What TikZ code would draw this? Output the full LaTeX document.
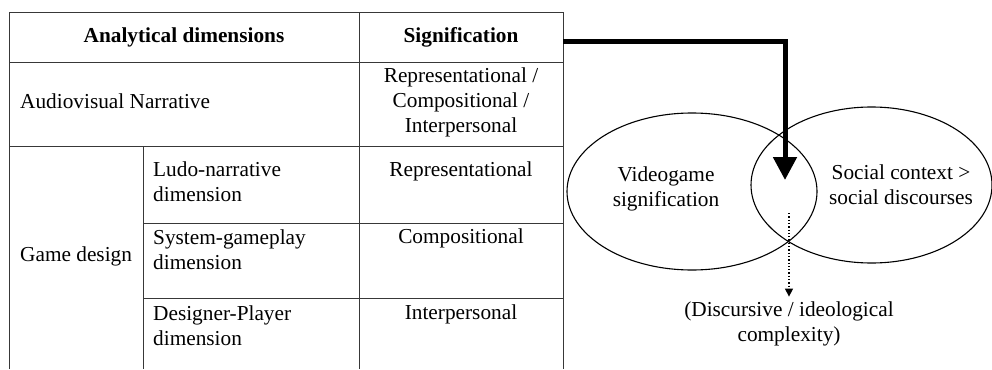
\documentclass[tikz,border=0pt]{standalone}
\usepackage{fontspec}
\setmainfont{Liberation Serif}
\usetikzlibrary{arrows.meta,shapes.geometric}
\begin{document}
\begin{tikzpicture}[x=1pt,y=-1pt,
  every node/.style={font=\fontsize{21.3}{25}\selectfont, inner sep=0pt},
  rule/.style={draw=black!78, line width=1pt},
  hdr/.style={font=\fontsize{21.3}{25}\selectfont\bfseries},
  lcell/.style={anchor=west, align=left},
  ccell/.style={align=center},
  oval/.style={draw, ellipse, line width=1.1pt, inner sep=0pt}]
\useasboundingbox (0,0) rectangle (992,369);
% table rules
\draw[rule] (9,369) -- (9,13) -- (563,13) -- (563,369);
\draw[rule] (9,62) -- (563,62);
\draw[rule] (9,146) -- (563,146);
\draw[rule] (143,223) -- (563,223);
\draw[rule] (143,298) -- (563,298);
\draw[rule] (359,13) -- (359,369);
\draw[rule] (143,146) -- (143,369);
% header
\node[hdr] (hA) at (184,37) {Analytical dimensions};
\node[hdr, minimum width=204pt, minimum height=49pt] (hS) at (461,37.5) {Signification};
% rows
\node[lcell] (av) at (20,101) {Audiovisual Narrative};
\node[ccell] (avs) at (461,102) {Representational /\\Compositional /\\Interpersonal};
\node[lcell] (gd) at (20,256) {Game design};
\node[lcell] (ludo) at (153,182) {Ludo-narrative\\dimension};
\node (ludos) at (461,171) {Representational};
\node[lcell] (sys) at (153,250) {System-gameplay\\dimension};
\node (syss) at (461,238) {Compositional};
\node[lcell] (des) at (153,326) {Designer-Player\\dimension};
\node (dess) at (461,314) {Interpersonal};
% ellipses
\node[oval, minimum width=250pt, minimum height=157pt] (vg) at (692,191.5) {};
\node[oval, minimum width=241pt, minimum height=156pt] (sc) at (871.5,185) {};
\node[ccell] (vgt) at (666,189) {Videogame\\signification};
\node[ccell] (sct) at (901,185) {Social context >\\social discourses};
\node[ccell] (bt) at (789,324) {(Discursive / ideological\\complexity)};
% arrows
\coordinate (tip) at (785,180);
\coordinate (dstart) at (789,213);
\draw[line width=5pt, -{Triangle[width=23pt,length=23pt]}] ([yshift=-4pt]hS.east) -| (tip);
\draw[dotted, line width=1.3pt, -{Triangle[width=8pt,length=8pt]}] (dstart) -- ([yshift=5pt]bt.north);
\end{tikzpicture}
\end{document}
